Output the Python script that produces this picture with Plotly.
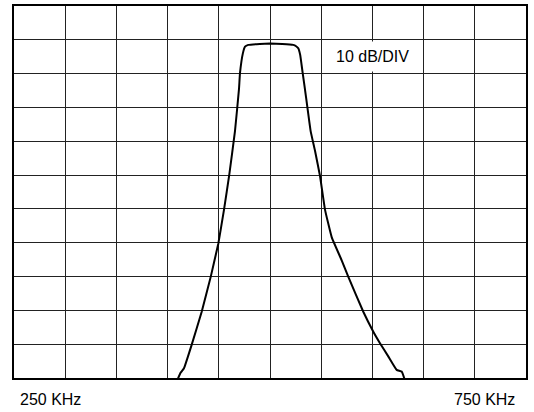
import plotly.graph_objects as go

# frequency in kHz, level in dB (0 dB at top of screen, 10 dB/div)
freq_khz = [408.9, 412.8, 416.0, 423.5, 433.3, 442.1, 448.0, 449.5, 455.1, 460.3,
            465.8, 469.7, 470.7, 473.5, 475.6, 478.8, 490.0, 500.0, 512.0, 522.7,
            525.5, 527.6, 529.5, 531.9, 534.2, 539.7, 544.0, 548.8, 553.7, 560.3,
            570.0, 576.5, 591.1, 600.9, 607.4, 615.5, 623.7, 628.6, 631.8]
level_db = [-111.0, -108.4, -107.1, -100.2, -90.4, -80.1, -72.3, -70.3, -60.2, -49.7,
            -37.0, -24.6, -19.8, -14.0, -12.0, -11.5, -11.2, -11.1, -11.2, -11.5,
            -11.9, -12.5, -14.5, -19.8, -24.7, -37.0, -42.9, -50.2, -60.2, -68.4,
            -75.2, -80.1, -90.4, -96.3, -99.7, -103.6, -107.6, -108.1, -110.7]

x_range = [250, 750]
y_range = [-110, 0]
start_label = "250 KHz"
stop_label = "750 KHz"
scale_label = "10 dB/DIV"

fig = go.Figure()
fig.add_trace(go.Scatter(
    x=freq_khz, y=level_db, mode="lines",
    line=dict(color="black", width=2, shape="spline", smoothing=0.3),
    cliponaxis=False, hoverinfo="skip", showlegend=False,
))

axis_common = dict(
    showgrid=True, gridcolor="#222222", gridwidth=1,
    showticklabels=False, ticks="", zeroline=False,
    showline=True, linecolor="black", linewidth=2, mirror=True,
)
fig.update_xaxes(range=x_range, dtick=50, tick0=250, **axis_common)
fig.update_yaxes(range=y_range, dtick=10, tick0=0, **axis_common)

font = dict(family="Liberation Sans, Arial", size=16, color="black")
fig.add_annotation(x=600, y=-15, xref="x", yref="y", text=scale_label,
                   showarrow=False, bgcolor="white", borderpad=6, font=font)
fig.add_annotation(x=(18 - 14) / 512, y=-(400 - 378) / 374, xref="paper", yref="paper",
                   text=start_label, showarrow=False, xanchor="left", yanchor="middle",
                   font=font)
fig.add_annotation(x=(517 - 14) / 512, y=-(400 - 378) / 374, xref="paper", yref="paper",
                   text=stop_label, showarrow=False, xanchor="right", yanchor="middle",
                   font=font)

fig.update_layout(
    width=534, height=412,
    margin=dict(l=14, r=8, t=4, b=34),
    paper_bgcolor="white", plot_bgcolor="white",
)
fig.write_html("out.html", config={"displayModeBar": False},
               post_script="document.body.style.margin='0';document.body.style.overflow='hidden';")
